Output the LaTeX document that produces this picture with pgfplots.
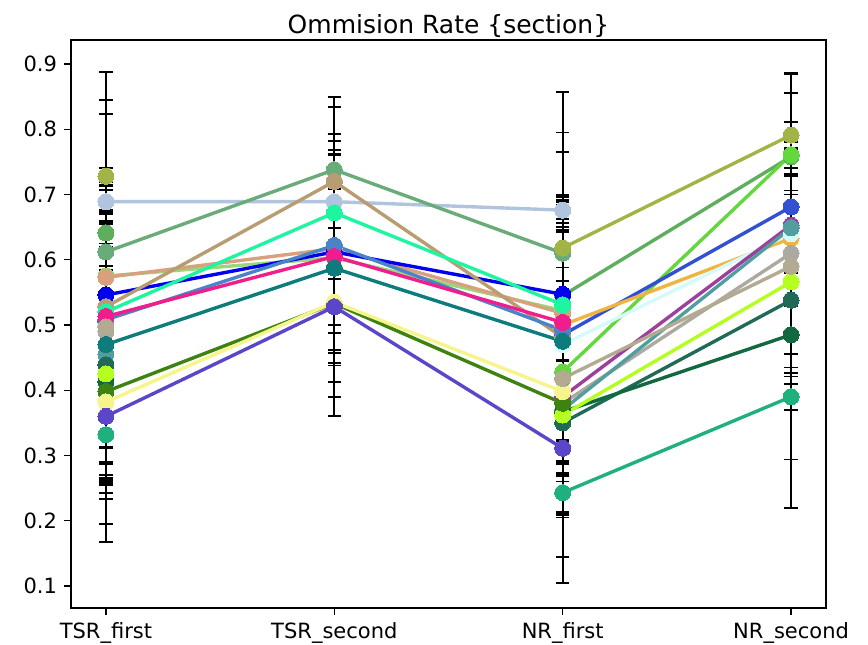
\documentclass[border=0pt]{standalone}
\usepackage{fontspec}
\setmainfont{DejaVu Sans}
\usepackage{pgfplots}
\usepackage{pgfplotstable}
\pgfplotsset{compat=1.18}

\definecolor{cA1}{HTML}{B0C4DE}
\definecolor{cA2}{HTML}{6AAB7A}
\definecolor{cA3}{HTML}{D9A07E}
\definecolor{cA4}{HTML}{0000EE}
\definecolor{cA5}{HTML}{B89C72}
\definecolor{cA6}{HTML}{1EF5A0}
\definecolor{cA7}{HTML}{F01E8C}
\definecolor{cA8}{HTML}{4A84C6}
\definecolor{cA9}{HTML}{0E7C7C}
\definecolor{cA10}{HTML}{3E8212}
\definecolor{cA11}{HTML}{F5F58C}
\definecolor{cA12}{HTML}{5B45C8}
\definecolor{cA13}{HTML}{98D878}
\definecolor{cB1}{HTML}{A3B446}
\definecolor{cB2}{HTML}{5EAE5E}
\definecolor{cB3}{HTML}{62D83E}
\definecolor{cB4}{HTML}{B3AA92}
\definecolor{cB5}{HTML}{ABA9A0}
\definecolor{cB6}{HTML}{9E3F9E}
\definecolor{cB7}{HTML}{529E9E}
\definecolor{cB8}{HTML}{F2B440}
\definecolor{cB9}{HTML}{3250D2}
\definecolor{cB10}{HTML}{D4FAFA}
\definecolor{cB11}{HTML}{B4FF1E}
\definecolor{cB12}{HTML}{226A58}
\definecolor{cB13}{HTML}{12693F}
\definecolor{cB14}{HTML}{1FB07E}

% group A: series present at TSR_first, TSR_second, NR_first
\pgfplotstableread{
x  a1    ea1  a2    ea2  a3    ea3   a4    ea4   a5    ea5   a6    ea6   a7    ea7   a8    ea8  a9    ea9  a10   ea10  a11   ea11  a12   ea12 a13   ea13
0  0.689 0.03 0.612 0.06 0.573 0.10  0.546 0.13  0.528 0.36  0.520 0.325 0.513 0.20  0.508 0.15 0.470 0.20 0.398 0.14  0.382 0.12  0.360 0.10 0.575 0.05
1  0.689 0.04 0.738 0.03 0.617 0.175 0.612 0.222 0.720 0.04  0.672 0.09  0.605 0.245 0.622 0.16 0.587 0.13 0.533 0.045 0.535 0.035 0.528 0.09 0.603 0.19
2  0.676 0.02 0.610 0.09 0.518 0.17  0.547 0.13  0.481 0.376 0.531 0.16  0.504 0.18  0.492 0.17 0.475 0.17 0.380 0.17  0.398 0.19  0.311 0.04 0.522 0.12
3  nan   0    nan   0    nan   0     nan   0     nan   0     nan   0     nan   0     nan   0    nan   0    nan   0     nan   0     nan   0    nan   0
}\tabA

% group B: series present at TSR_first, NR_first, NR_second
\pgfplotstableread{
x  b1    eb1   b2    eb2  b3    eb3  b4    eb4   b5    eb5  b6    eb6   b7    eb7  b8    eb8   b9    eb9  b10   eb10  b11   eb11 b12   eb12  b13   eb13 b14   eb14
0  0.728 0.013 0.641 0.05 0.520 0.10 0.497 0.21  0.490 0.20 0.528 0.295 0.455 0.20 0.500 0.17  0.505 0.15 0.500 0.12  0.425 0.16 0.439 0.18  0.413 0.17 0.332 0.02
1  nan   0     nan   0    nan   0    nan   0     nan   0    nan   0     nan   0    nan   0     nan   0    nan   0     nan   0    nan   0     nan   0    nan   0
2  0.618 0.08  0.545 0.10 0.428 0.16 0.418 0.15  0.380 0.12 0.390 0.12  0.370 0.10 0.500 0.15  0.485 0.28 0.470 0.325 0.362 0.07 0.350 0.06  0.367 0.08 0.243 0.03
3  0.791 0.02  0.758 0.03 0.761 0.02 0.590 0.296 0.610 0.13 0.653 0.232 0.649 0.12 0.633 0.178 0.681 0.05 0.640 0.06  0.566 0.14 0.538 0.318 0.485 0.05 0.390 0.02
}\tabB

\newcommand{\eb}[3]{%
  \addplot[forget plot, only marks, mark=*, mark size=0pt,
    mark options={draw=none, fill=none},
    error bars/.cd, y dir=both, y explicit,
    error bar style={draw=black, line width=0.9pt},
    error mark=-,
    error mark options={draw=black, line width=0.9pt, mark size=3.3pt, rotate=90}]
    table[x=x, y=#2, y error=#3] {#1};}
\newcommand{\serline}[3]{%
  \addplot[forget plot, color=#1, line width=1.7pt, mark=*, mark size=4pt,
    mark options={solid, fill=#1, draw=#1, line width=0pt},
    unbounded coords=jump]
    table[x=x, y=#3] {#2};}

\begin{document}
\begin{tikzpicture}
\begin{axis}[
  scale only axis, width=377.5pt, height=284pt,
  xmin=-0.153, xmax=3.153, ymin=0.0663, ymax=0.9368,
  xtick={0,1,2,3},
  xticklabels={TSR\_first, TSR\_second, NR\_first, NR\_second},
  ytick={0.1,0.2,0.3,0.4,0.5,0.6,0.7,0.8,0.9},
  yticklabel style={/pgf/number format/fixed, /pgf/number format/precision=1, /pgf/number format/fixed zerofill},
  /pgf/number format/assume math mode=true,
  tick align=outside, major tick length=3.5pt,
  tick style={black, line width=0.6pt},
  xtick pos=bottom, ytick pos=left,
  axis line style={line width=0.6pt},
  tick label style={font=\fontsize{10.5}{12}\selectfont},
  title={Ommision Rate \{section\}},
  title style={at={(0.5,1)}, anchor=base, yshift=-2.8pt, font=\fontsize{12.5}{15}\selectfont},
  clip=false,
]
% error bars first
\eb{\tabA}{a1}{ea1}\eb{\tabA}{a2}{ea2}\eb{\tabA}{a3}{ea3}\eb{\tabA}{a4}{ea4}
\eb{\tabA}{a5}{ea5}\eb{\tabA}{a6}{ea6}\eb{\tabA}{a7}{ea7}\eb{\tabA}{a8}{ea8}
\eb{\tabA}{a9}{ea9}\eb{\tabA}{a10}{ea10}\eb{\tabA}{a11}{ea11}\eb{\tabA}{a12}{ea12}
\eb{\tabA}{a13}{ea13}
\eb{\tabB}{b1}{eb1}\eb{\tabB}{b2}{eb2}\eb{\tabB}{b3}{eb3}\eb{\tabB}{b4}{eb4}
\eb{\tabB}{b5}{eb5}\eb{\tabB}{b6}{eb6}\eb{\tabB}{b7}{eb7}\eb{\tabB}{b8}{eb8}
\eb{\tabB}{b9}{eb9}\eb{\tabB}{b10}{eb10}\eb{\tabB}{b11}{eb11}\eb{\tabB}{b12}{eb12}
\eb{\tabB}{b13}{eb13}\eb{\tabB}{b14}{eb14}
% lines and markers
\serline{cB2}{\tabB}{b2}
\serline{cB3}{\tabB}{b3}
\serline{cB9}{\tabB}{b9}
\serline{cB8}{\tabB}{b8}
\serline{cB10}{\tabB}{b10}
\serline{cB5}{\tabB}{b5}
\serline{cB6}{\tabB}{b6}
\serline{cB7}{\tabB}{b7}
\serline{cB12}{\tabB}{b12}
\serline{cB13}{\tabB}{b13}
\serline{cB11}{\tabB}{b11}
\serline{cB14}{\tabB}{b14}
\serline{cA13}{\tabA}{a13}
\serline{cA1}{\tabA}{a1}
\serline{cA2}{\tabA}{a2}
\serline{cA3}{\tabA}{a3}
\serline{cA4}{\tabA}{a4}
\serline{cA5}{\tabA}{a5}
\serline{cA6}{\tabA}{a6}
\serline{cA8}{\tabA}{a8}
\serline{cA7}{\tabA}{a7}
\serline{cA9}{\tabA}{a9}
\serline{cA10}{\tabA}{a10}
\serline{cA11}{\tabA}{a11}
\serline{cA12}{\tabA}{a12}
\serline{cB4}{\tabB}{b4}
\serline{cB1}{\tabB}{b1}
\end{axis}
\pgfresetboundingbox
\path ([xshift=-35.5pt,yshift=-18.5pt]current axis.south west) rectangle ([xshift=21pt,yshift=20pt]current axis.north east);
\end{tikzpicture}
\end{document}
